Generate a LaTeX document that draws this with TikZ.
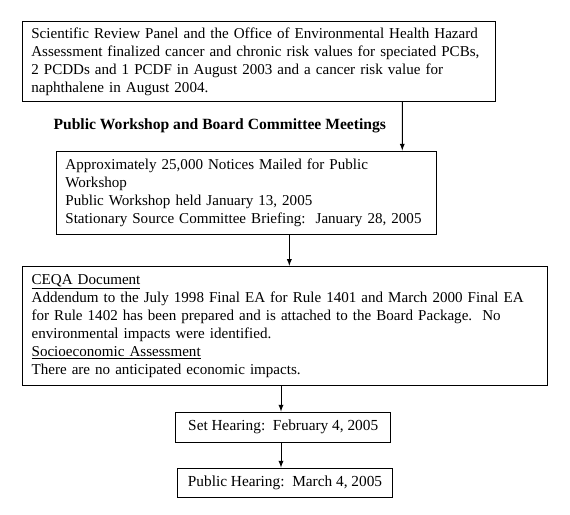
\documentclass[tikz,border=0pt]{standalone}
\usepackage{fontspec}
\setmainfont{Liberation Serif}

\begin{document}
\begin{tikzpicture}
[every node/.style={inner sep=0pt, font=\fontsize{11.3}{13.5}\selectfont},
 box/.style={rectangle, draw=black, line width=0.75pt, inner xsep=7pt, align=left},
 flow/.style={line width=0.75pt, -latex, color=black}]
\useasboundingbox (0pt, 0pt) rectangle (427.5pt, -385.5pt);
\node (1) [box, inner xsep=6.75pt, text width=341.5pt, minimum height=60pt] at (194.25pt, -46pt) {Scientific Review Panel and the Office of Environmental Health Hazard\\Assessment finalized cancer and chronic risk values for speciated PCBs,\\2 PCDDs and 1 PCDF in August 2003 and a cancer risk value for\\naphthalene in August 2004.};
\node (0) [anchor=base west, font=\fontsize{11.7}{13.5}\selectfont\bfseries] at (40pt, -96.75pt) {Public Workshop and Board Committee Meetings};
\node (2) [box, text width=271.5pt, minimum height=62.5pt] at (184.8pt, -144.5pt) {Approximately 25,000 Notices Mailed for Public\\Workshop\\Public Workshop held January 13, 2005\\Stationary Source Committee Briefing:\ \ January 28, 2005};
\node (3) [box, text width=379.75pt, minimum height=89.25pt] at (213.6pt, -244.35pt) {\underline{CEQA Document}\\Addendum to the July 1998 Final EA for Rule 1401 and March 2000 Final EA\\for Rule 1402 has been prepared and is attached to the Board Package.\ \ No\\environmental impacts were identified.\\\underline{Socioeconomic Assessment}\\There are no anticipated economic impacts.};
\node (4) [box, align=center, font=\fontsize{11.5}{13.5}\selectfont, minimum width=161.25pt, minimum height=22.5pt] at (212.4pt, -320.25pt) {Set Hearing:\ \ February 4, 2005};
\node (5) [box, align=center, font=\fontsize{11.5}{13.5}\selectfont, minimum width=161pt, minimum height=21.75pt] at (213.75pt, -361.9pt) {Public Hearing:\ \ March 4, 2005};
\draw [flow] ([xshift=107.5pt]1.south) to ([xshift=116.9pt]2.north);
\draw [flow] ([xshift=32.2pt]2.south) to ([xshift=3.4pt]3.north);
\draw [flow] ([xshift=-2.85pt]3.south) to ([xshift=-1.65pt]4.north);
\draw [flow] ([xshift=-1.65pt]4.south) to ([xshift=-3pt]5.north);

\end{tikzpicture}
\end{document}
